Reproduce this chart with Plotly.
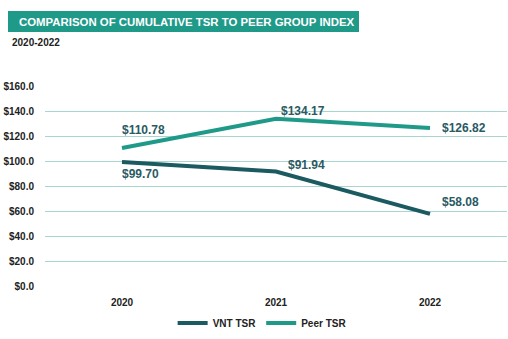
import plotly.graph_objects as go

years = ["2020", "2021", "2022"]
vnt_tsr = [99.70, 91.94, 58.08]
peer_tsr = [110.78, 134.17, 126.82]
y_ticks = [0, 20, 40, 60, 80, 100, 120, 140, 160]
y_tick_labels = ["$%.1f" % v for v in y_ticks]

DARK = "#1b5a60"
TEAL = "#1f9a89"
LABEL = "#2a5a63"
GRID = "#a9d5cf"
FONT = "Liberation Sans, Arial, sans-serif"

fig = go.Figure()
fig.add_trace(go.Scatter(x=years, y=vnt_tsr, mode="lines", name="VNT TSR",
                         line=dict(color=DARK, width=4)))
fig.add_trace(go.Scatter(x=years, y=peer_tsr, mode="lines", name="Peer TSR",
                         line=dict(color=TEAL, width=4)))

# data labels (category index positions)
peer_shift = [(-2, 18), (3, 8), (10, 0)]
vnt_shift = [(-2, -12), (10, 7), (10, 12)]
for vals, shifts in ((peer_tsr, peer_shift), (vnt_tsr, vnt_shift)):
    for i, (v, (dx, dy)) in enumerate(zip(vals, shifts)):
        fig.add_annotation(x=i, y=v, xref="x", yref="y", text="$%.2f" % v, showarrow=False,
                           xanchor="left", yanchor="middle", xshift=dx, yshift=dy,
                           font=dict(family=FONT, size=12, color=LABEL, weight="bold"))

# title box
L, T, W, H = 45, 86, 462, 201
def px(x):
    return (x - L) / W
def py(y):
    return (T + H - y) / H

fig.add_shape(type="rect", xref="paper", yref="paper",
              x0=px(8), x1=px(359), y0=py(32), y1=py(11),
              fillcolor=TEAL, line=dict(width=0), layer="above")
fig.add_annotation(xref="paper", yref="paper", x=px(17), y=py(21.5),
                   text="COMPARISON OF CUMULATIVE TSR TO PEER GROUP INDEX",
                   showarrow=False, xanchor="left", yanchor="middle",
                   font=dict(family=FONT, size=11.4, color="white", weight="bold"))
fig.add_annotation(xref="paper", yref="paper", x=px(10), y=py(43),
                   text="2020-2022", showarrow=False, xanchor="left", yanchor="middle",
                   font=dict(family=FONT, size=10, color="#222222", weight="bold"))

fig.update_layout(
    width=508, height=339,
    margin=dict(l=L, r=508 - L - W, t=T, b=339 - T - H),
    paper_bgcolor="white", plot_bgcolor="white",
    showlegend=True,
    legend=dict(orientation="h", x=0.47, xanchor="center", y=py(323), yanchor="middle",
                font=dict(family=FONT, size=10, color="#222222", weight="bold"),
                itemwidth=30, tracegroupgap=0),
    font=dict(family=FONT),
)
fig.update_xaxes(type="category", showgrid=False, zeroline=False, showline=False,
                 range=[-0.5, 2.5], ticks="", ticklabelstandoff=8,
                 tickfont=dict(family=FONT, size=10, color="#222222", weight="bold"))
fig.update_yaxes(range=[-0.4, 160.4], tickvals=y_ticks, ticktext=y_tick_labels,
                 showgrid=True, gridcolor=GRID, gridwidth=1, zeroline=False,
                 showline=False, ticks="", ticklabelstandoff=10,
                 tickfont=dict(family=FONT, size=10, color="#222222", weight="bold"))

fig.write_html("out.html")
